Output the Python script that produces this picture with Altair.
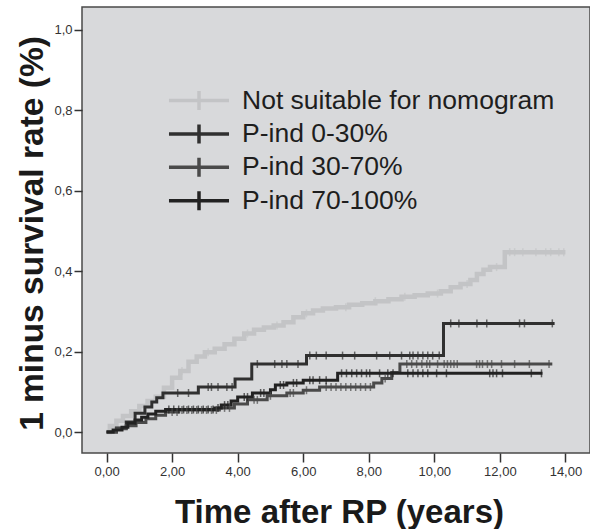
import altair as alt
import pandas as pd

# Cumulative incidence (1 - survival) step curves, times in years after RP
series_names = ["Not suitable for nomogram", "P-ind 0-30%", "P-ind 30-70%", "P-ind 70-100%"]
series_colors = ["#c3c4c6", "#303030", "#4a4a4a", "#222222"]
series_widths = [4.5, 3, 3, 3]

ns_t = [0, 0.1, 0.3, 0.5, 0.75, 1.0, 1.25, 1.5, 1.75, 2.0, 2.25, 2.5, 2.75, 3.0, 3.3, 3.6,
        3.9, 4.2, 4.5, 4.8, 5.1, 5.4, 5.7, 6.0, 6.3, 6.6, 7.0, 7.4, 7.8, 8.2, 8.6, 9.0, 9.4,
        9.8, 10.2, 10.5, 10.8, 11.1, 11.3, 11.5, 11.7, 12.15, 14.0]
ns_v = [0, 0.015, 0.028, 0.04, 0.052, 0.065, 0.077, 0.088, 0.11, 0.135, 0.152, 0.175, 0.188,
        0.198, 0.207, 0.218, 0.232, 0.245, 0.254, 0.26, 0.265, 0.273, 0.285, 0.295, 0.302,
        0.307, 0.31, 0.316, 0.32, 0.325, 0.33, 0.336, 0.34, 0.344, 0.35, 0.36, 0.368, 0.378,
        0.393, 0.403, 0.41, 0.447, 0.447]
ns_cens = [2.3, 3.1, 4.3, 5.2, 6.1, 7.3, 8.2, 9.1, 10.1, 11.0, 11.9, 12.3, 12.45, 12.7, 13.1,
           13.4, 13.55, 13.8, 13.95]

p1_t = [0, 0.3, 0.6, 0.87, 1.17, 1.38, 1.53, 1.72, 2.8, 3.92, 4.43, 6.1, 10.28, 13.67]
p1_v = [0, 0.01, 0.025, 0.047, 0.062, 0.075, 0.085, 0.097, 0.112, 0.132, 0.169, 0.19, 0.27, 0.27]
p1_cens = [2.17, 2.5, 3.1, 3.2, 3.4, 3.67, 3.83, 4.6, 5.13, 5.35, 5.5, 5.84, 6.2, 6.4, 6.7,
           7.2, 7.57, 8.24, 8.64, 9.0, 9.25, 9.35, 9.5, 9.65, 9.8, 9.95, 10.15, 10.5, 10.75,
           11.3, 11.6, 12.6, 12.75, 13.6]

p2_t = [0, 0.3, 0.6, 0.9, 1.2, 1.5, 1.8, 2.2, 3.44, 3.9, 4.3, 4.9, 5.5, 6.0, 6.5, 8.15, 8.4,
        8.7, 8.95, 13.6]
p2_v = [0, 0.008, 0.016, 0.024, 0.033, 0.042, 0.05, 0.055, 0.06, 0.07, 0.08, 0.09, 0.097,
        0.104, 0.112, 0.122, 0.133, 0.148, 0.169, 0.169]
p2_cens = [2.0, 2.15, 2.3, 2.45, 2.6, 2.75, 2.9, 3.05, 3.2, 3.35, 3.6, 3.75, 4.5, 4.6, 5.0,
           5.6, 5.7, 6.1, 6.7, 6.85, 7.0, 7.15, 7.3, 7.45, 7.6, 7.75, 7.9, 8.05, 8.5, 9.16,
           9.31, 9.46, 9.62, 9.77, 9.86, 10.1, 10.3, 10.4, 10.5, 10.6, 10.7, 11.29, 11.38,
           11.47, 11.62, 11.75, 12.05, 12.45, 12.9, 13.5]

p3_t = [0, 0.2, 0.47, 0.65, 0.87, 1.07, 1.26, 1.5, 1.8, 3.3, 3.5, 3.8, 4.0, 4.45, 5.0, 5.15,
        5.5, 6.0, 7.05, 13.3]
p3_v = [0, 0.005, 0.012, 0.022, 0.03, 0.037, 0.045, 0.052, 0.056, 0.06, 0.067, 0.077, 0.087,
        0.097, 0.105, 0.117, 0.122, 0.129, 0.146, 0.146]
p3_cens = [1.9, 2.05, 2.2, 2.35, 2.5, 2.65, 2.8, 2.95, 3.1, 3.25, 3.4, 3.6, 3.7, 4.2, 4.3,
           4.7, 4.8, 5.3, 5.4, 5.7, 5.8, 6.2, 6.3, 6.5, 6.7, 7.17, 7.32, 7.48, 7.63, 7.78,
           7.93, 8.03, 8.33, 8.58, 8.74, 9.19, 9.35, 9.5, 9.65, 9.8, 10.07, 10.37, 11.69,
           11.79, 11.9, 12.08, 12.96, 13.27]

curves = [(ns_t, ns_v, ns_cens), (p1_t, p1_v, p1_cens), (p2_t, p2_v, p2_cens), (p3_t, p3_v, p3_cens)]


def step_value(ts, vs, t):
    val = vs[0]
    for ti, vi in zip(ts, vs):
        if ti <= t:
            val = vi
    return val


line_rows, cens_rows = [], []
for name, w, (ts, vs, cs) in zip(series_names, series_widths, curves):
    for i, (ti, vi) in enumerate(zip(ts, vs)):
        line_rows.append({"group": name, "time": ti, "value": vi, "ord": i, "w": w})
    for c in cs:
        cens_rows.append({"group": name, "time": c, "value": step_value(ts, vs, c)})

lines_df = pd.DataFrame(line_rows)
cens_df = pd.DataFrame(cens_rows)

FONT = "Liberation Sans"

color = alt.Color(
    "group:N",
    scale=alt.Scale(domain=series_names, range=series_colors),
    legend=alt.Legend(
        title=None, orient="none", legendX=100.5, legendY=77, padding=0,
        symbolType="M-2.07,0L2.07,0M0,-0.655L0,0.655", symbolSize=841,
        symbolStrokeWidth=3.5, labelFontSize=26.5, labelFont=FONT, labelColor="#1e1e1e",
        labelLimit=600, labelOffset=26.5, rowPadding=0.4,
    ),
)

x = alt.X(
    "time:Q",
    scale=alt.Scale(domain=[-0.75, 14.75], nice=False, zero=False),
    axis=alt.Axis(
        values=[0, 2, 4, 6, 8, 10, 12, 14],
        labelExpr="replace(format(datum.value, '.2f'), '.', ',')",
        title="Time after RP (years)", titleFont=FONT, titleFontSize=33,
        titleFontWeight="bold", titleColor="#1a1a1a", titleX=257, titleY=69,
        titleAlign="center", titleBaseline="alphabetic",
        labelFont=FONT, labelFontSize=13, labelColor="#333333", labelPadding=3,
        tickSize=9, tickWidth=1.5, tickColor="#333333", domain=False, grid=False,
    ),
)

y = alt.Y(
    "value:Q",
    scale=alt.Scale(domain=[-0.052, 1.056], nice=False, zero=False),
    axis=alt.Axis(
        values=[0, 0.2, 0.4, 0.6, 0.8, 1.0],
        labelExpr="replace(format(datum.value, '.1f'), '.', ',')",
        title="1 minus survival rate (%)", titleFont=FONT, titleFontSize=33.5,
        titleFontWeight="bold", titleColor="#1a1a1a", titleX=-40, titleY=226,
        titleAngle=270, titleAlign="center", titleBaseline="alphabetic",
        labelFont=FONT, labelFontSize=13, labelColor="#333333", labelPadding=2,
        tickSize=8, tickWidth=1.5, tickColor="#333333", domain=False, grid=False,
    ),
)

steps = alt.Chart(lines_df).mark_line(interpolate="step-after").encode(
    x=x, y=y, color=color, order="ord:Q",
    strokeWidth=alt.StrokeWidth("w:Q", scale=None, legend=None),
)

censored = alt.Chart(cens_df).mark_tick(orient="vertical", size=8, thickness=1.5).encode(
    x="time:Q", y="value:Q", color=alt.Color("group:N", legend=None)
)

chart = (
    alt.layer(steps, censored)
    .properties(
        width=508, height=446,
        autosize=alt.AutoSizeParams(type="none"),
        padding={"left": 82, "top": 7, "right": 0, "bottom": 76},
        background="white",
    )
    .configure_view(fill="#d8d9db", stroke="#4a4a4a", strokeWidth=1.5)
)

chart.save("out.html", embed_options={"renderer": "svg", "actions": False})
